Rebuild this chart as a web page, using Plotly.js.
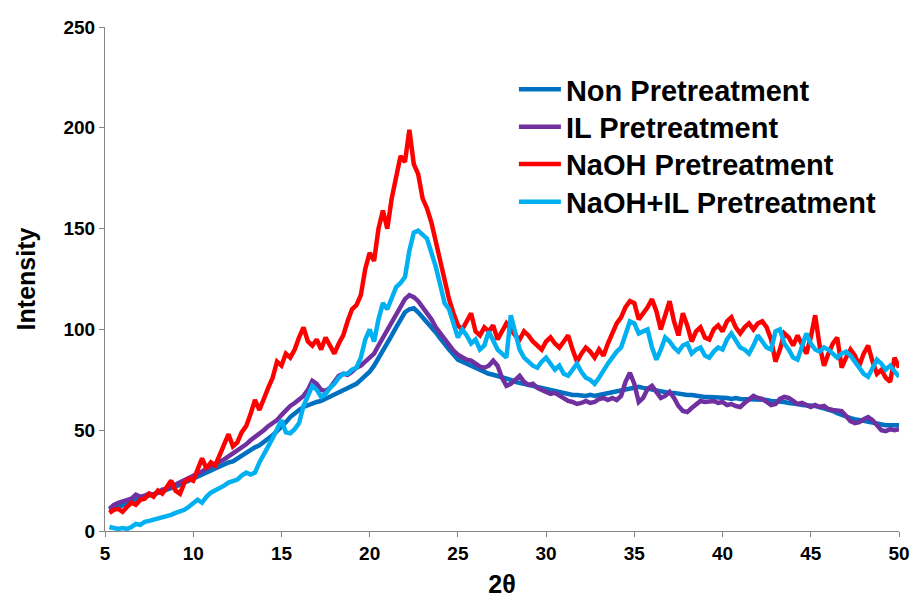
<!DOCTYPE html>
<html>
<head>
<meta charset="utf-8">
<script src="https://cdn.plot.ly/plotly-3.0.1.min.js"></script>
<style>html,body{margin:0;padding:0;background:#fff;}#chart{width:916px;height:605px;}</style>
</head>
<body>
<div id="chart"></div>
<script>
const twoTheta = [
5.25,5.5,5.75,6,6.25,6.5,6.75,7,7.25,7.5,7.75,8,8.25,8.5,8.75,9,9.25,9.5,9.75,10,
10.25,10.5,10.75,11,11.25,11.5,11.75,12,12.25,12.5,12.75,13,13.25,13.5,13.75,14,14.25,14.5,14.75,15,
15.25,15.5,15.75,16,16.25,16.5,16.75,17,17.25,17.5,17.75,18,18.25,18.5,18.75,19,19.25,19.5,19.75,20,
20.25,20.5,20.75,21,21.25,21.5,21.75,22,22.25,22.5,22.75,23,23.25,23.5,23.75,24,24.25,24.5,24.75,25,
25.25,25.5,25.75,26,26.25,26.5,26.75,27,27.25,27.5,27.75,28,28.25,28.5,28.75,29,29.25,29.5,29.75,30,
30.25,30.5,30.75,31,31.25,31.5,31.75,32,32.25,32.5,32.75,33,33.25,33.5,33.75,34,34.25,34.5,34.75,35,
35.25,35.5,35.75,36,36.25,36.5,36.75,37,37.25,37.5,37.75,38,38.25,38.5,38.75,39,39.25,39.5,39.75,40,
40.25,40.5,40.75,41,41.25,41.5,41.75,42,42.25,42.5,42.75,43,43.25,43.5,43.75,44,44.25,44.5,44.75,45,
45.25,45.5,45.75,46,46.25,46.5,46.75,47,47.25,47.5,47.75,48,48.25,48.5,48.75,49,49.25,49.5,49.75,50
];

const nonPretreatment = [
10,11,12,13,14,14.5,15.5,16.5,17,17.5,18.5,19,19.5,20.5,21,22,23,24,25,26.5,
27.5,28.5,29.5,30,31,32,33,34,34.5,36,37,38.5,40,41.5,42.5,44,45.5,47.5,49.5,51.5,
54,56.5,58.5,60,61.5,62.5,63.5,64,64.5,65.5,66.5,67.5,68.5,69.5,71,72,73,75,77,79,
82,85.5,89,93,97,101,105,108.5,110,110.5,108.5,106,104,101.5,98.5,95.5,92.5,90,87.5,85,
84,83,82,80.5,80,79,78,77.5,77,76,75.5,75,74,73.5,72.5,72,71.5,71,70.5,70,
69.5,69,68.5,68,68,67.5,67.5,67,67,67.5,67,67.5,68,68,68.5,69,69.5,70.5,71,71.5,
71.5,71,70.5,70,70,69.5,69,68.5,68.5,68,68,67.5,67.5,67,67,66.5,66.5,66.5,66,66,
66,65.5,66,65.5,65.5,65.5,65.5,65.5,65,65,64.5,64.5,64,64,63.5,63.5,63,62.5,62.5,62,
62,61.5,61,60.5,59.5,58.5,57.5,56.5,56,55.5,55,54.5,54,53.5,53,53,52.5,52.5,52.5,52.5
];

const ilPretreatment = [
11,13,14,14.5,15,16,18,17,17.5,18.5,18,19.5,20.5,21,22,23.5,24,25,26.5,27.5,
28.5,29.5,31,32,33,34,35.5,37,38.5,39.5,41,43,45,46.5,48.5,50,52,53.5,55,57.5,
60,62,63.5,65,67,70,74.5,73,70,69.5,71,74,77,78,77.5,79,81,82,84,85.5,
88,92,96,100,104,108,112,115,117,116,114,111,108,105,101,98,95,92,89.5,87.5,
86,85,84.5,83,81.5,81,82,84.5,82,76,72,73,75,77,74,72.5,73,71,70,69,
68,68.5,67,65.5,64.5,64,63,63.5,64.5,63.5,64,65.5,66,65,66,65,67,74,78.5,73,
64,66,70.5,72,69,66,67,69,66,62,59.5,59,61,62.5,64.5,64,64,64.5,63.5,64,
62.5,63,62,61.5,63.5,65,67,66,65.5,64,62.5,63,65.5,66.5,66,64.5,63,63.5,62.5,61.5,
62.5,61.5,62,60.5,60,59.5,59.5,57,54.5,53.5,54,55.5,56.5,55,52.5,50,49.5,50.5,50,50.5
];

const naohPretreatment = [
9,10.5,11,9.5,12,14,13,15.5,16,18.5,17,20,18.5,22,25,20,18.5,24,26,25,
30,36,31,34,32.5,38,44,48,42,44,49,52,58,65,60,66,71,76,84,82,
88,86,90,96,101,94,92,95,90,96,92,88,93,97,104,110,112,117,130,138,
134,150,159,150,165,175,186,183,199,182,177,165,160,153,143,135,125,115,108,102,
100,104,108,99,97,101,99,102,95,99,103,100,97,95,99,97,94,92,90,94,
96,93,91,94,97,90,84,88,91,89,86,90,87,93,98,103,106,111,114,113,
105,108,111,115,109,100,108,114,104,97,108,102,94,99,101,96,95,100,102,99,
104,106,101,98,101,103,100,103,104,101,95,84,90,98,96,92,97,93,88,96,
107,92,82,88,93,96,81,86,90,87,82,88,92,84,78,80,76,74,86,81
];

const naohIlPretreatment = [
2,1.5,1,1.5,1,2,3.5,3,4.5,5,5.5,6,6.5,7,8,9,9.5,10.5,12,13.5,
15.5,14,17,19,20,21,22.5,24,25,25.5,27.5,29,28,29,34,38.5,42,46,51,55,
49,48.5,50.5,53.5,62,67,72,70,66.5,68,71,73,76,78,78,80,81,86,95,100,
94,105,113,110,116,121,123,126,139,148,149,147,145,138,131,122,113,110,103,96,
100,97,93,95,90,92,99,94,90,88,86,107,99,90,86,84,82,81,84,86,
83,80,82,78,77,80,83,79,76,75,73,76,80,83,86,89,91,97,104,103,
98,99,100,91,85,90,96,94,91,89,92,93,88,90,91,87,86,89,91,90,
95,98,94,91,90,88,92,97,94,91,90,99,100,93,90,86,85,92,98,93,
90,89,91,90,88,86,88,89,87,84,81,78,76.5,81,85,83,80,82,79,76.5
];

const seriesNames = ['Non Pretreatment', 'IL Pretreatment', 'NaOH Pretreatment', 'NaOH+IL Pretreatment'];
const seriesColors = ['#0070C0', '#7030A0', '#FF0000', '#00B0F0'];
const seriesValues = [nonPretreatment, ilPretreatment, naohPretreatment, naohIlPretreatment];

const xTicks = [5, 10, 15, 20, 25, 30, 35, 40, 45, 50];
const yTicks = [0, 50, 100, 150, 200, 250];

const legendIds = ['legend', 'legend2', 'legend3', 'legend4'];
const legendRowY = [0.876, 0.802, 0.728, 0.653];

const traces = seriesValues.map((vals, i) => ({
  type: 'scatter',
  mode: 'lines',
  name: seriesNames[i],
  legend: legendIds[i],
  x: twoTheta,
  y: vals,
  line: {color: seriesColors[i], width: 4.5}
}));

const fontFam = '"Liberation Sans", Arial, sans-serif';

const layout = {
  width: 916,
  height: 605,
  margin: {l: 105, r: 17, t: 27, b: 74},
  paper_bgcolor: '#ffffff',
  plot_bgcolor: '#ffffff',
  showlegend: true,
  xaxis: {
    range: [5, 50],
    tickvals: xTicks,
    ticktext: xTicks.map(String),
    showgrid: false,
    zeroline: false,
    showline: true,
    linecolor: '#868686',
    linewidth: 1,
    ticks: 'outside',
    ticklen: 5,
    tickcolor: '#868686',
    tickfont: {family: fontFam, size: 19, color: '#000', weight: 'bold'},
    title: {text: '2θ', font: {family: fontFam, size: 25, color: '#000', weight: 'bold'}, standoff: 12}
  },
  yaxis: {
    range: [0, 250],
    tickvals: yTicks,
    ticktext: yTicks.map(String),
    showgrid: false,
    zeroline: false,
    showline: true,
    linecolor: '#868686',
    linewidth: 1,
    ticks: 'outside',
    ticklen: 5,
    tickcolor: '#868686',
    tickfont: {family: fontFam, size: 19, color: '#000', weight: 'bold'},
    title: {text: 'Intensity', font: {family: fontFam, size: 25, color: '#000', weight: 'bold'}, standoff: 20}
  }
};

legendIds.forEach((id, i) => {
  layout[id] = {
    x: 0.515, y: legendRowY[i], xanchor: 'left', yanchor: 'middle',
    bgcolor: 'rgba(0,0,0,0)',
    itemwidth: 42,
    font: {family: fontFam, size: 29, color: '#000', weight: 'bold'}
  };
});

Plotly.newPlot('chart', traces, layout, {displayModeBar: false, staticPlot: true});
</script>
</body>
</html>
